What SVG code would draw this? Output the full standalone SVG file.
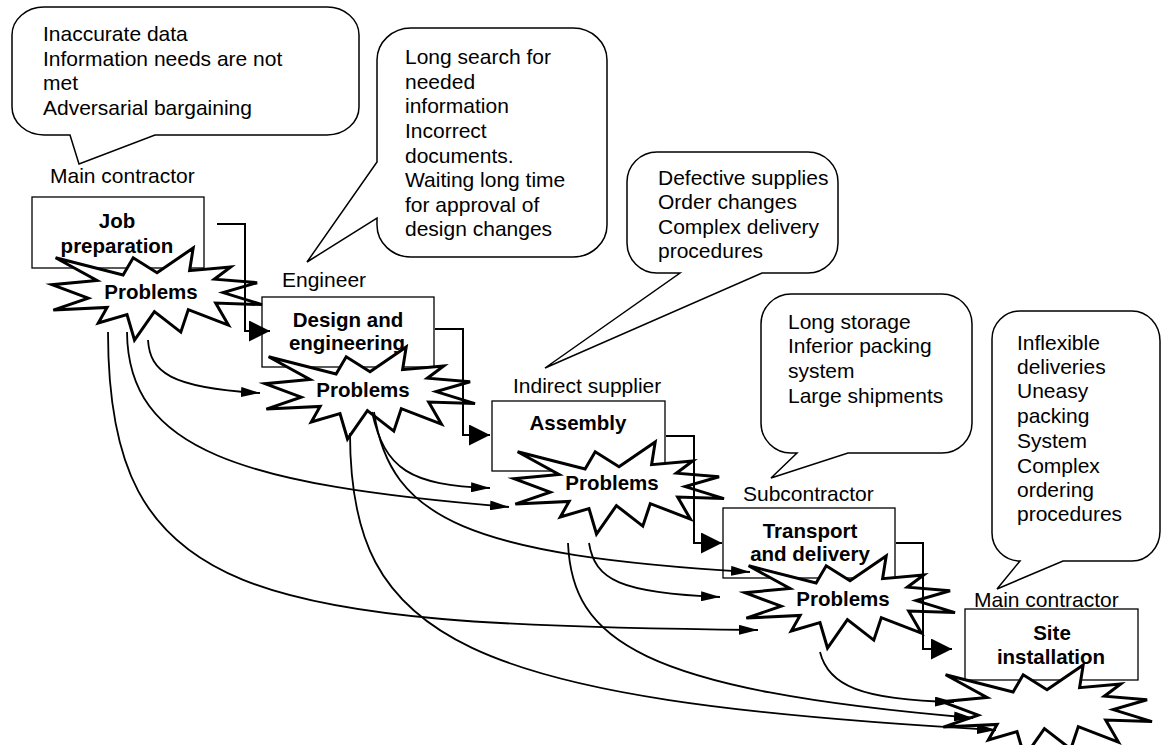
<svg xmlns="http://www.w3.org/2000/svg" xmlns:xlink="http://www.w3.org/1999/xlink" width="1162" height="745" viewBox="0 0 1162 745">
<defs>
<style>
.bubble{fill:#fff;stroke:#000;stroke-width:1.5;stroke-linejoin:miter}
.box{fill:#fff;stroke:#000;stroke-width:1.3}
.seal{fill:#fff;stroke:#000;stroke-width:3;stroke-linejoin:miter;stroke-miterlimit:5}
text{font-family:"Liberation Sans",Arial,Helvetica,sans-serif;font-size:21px;fill:#000}
.b{font-weight:bold;font-size:20.5px;text-anchor:middle}
.elbow{fill:none;stroke:#000;stroke-width:2;marker-end:url(#ahBig)}
.curve{fill:none;stroke:#000;stroke-width:1.8;marker-end:url(#ah)}
</style>
<marker id="ahBig" markerUnits="userSpaceOnUse" viewBox="0 0 21 21" refX="21" refY="10.5" markerWidth="21" markerHeight="21" orient="auto"><path d="M0,0 L21,10.5 L0,21 Z" fill="#000"/></marker>
<marker id="ah" markerUnits="userSpaceOnUse" viewBox="0 0 19 10" refX="19" refY="5" markerWidth="19" markerHeight="10" orient="auto"><path d="M0,0 L19,5 L0,10 Z" fill="#000"/></marker>
<polygon id="seal" class="seal" points="105,24.7 141.2,0 137.6,22.7 178.7,19 162.4,31.2 205.1,34.7 171.2,44.6 210,56.6 163.7,55.1 176.4,77.1 136.3,61.6 128.8,84.1 102.4,63.6 82.5,92 75,66.6 46.3,75 55.1,59.4 1.3,62.1 36.2,50.2 0,36.7 45,32.4 3.6,9.8 71.1,26.9 81.2,9.8"/>
</defs>
<rect width="1162" height="745" fill="#fff"/>

<g id="callouts">
<g id="callout-1">
<path class="bubble" d="M44,7 H327 A32,28 0 0 1 359,35 V107 A32,28 0 0 1 327,135 H155 L79,164 L70,135 H44 A32,28 0 0 1 12,107 V35 A32,28 0 0 1 44,7 Z"/>
<text x="43" y="41">Inaccurate data</text>
<text x="43" y="66">Information needs are not</text>
<text x="43" y="90">met</text>
<text x="43" y="115">Adversarial bargaining</text>
</g>
<g id="callout-2">
<path class="bubble" d="M411,28 H573 A34,32 0 0 1 607,60 V225 A34,32 0 0 1 573,257 H411 A34,32 0 0 1 377,225 V218 L307,262 L377,162 V60 A34,32 0 0 1 411,28 Z"/>
<text x="405" y="64">Long search for</text>
<text x="405" y="89">needed</text>
<text x="405" y="113">information</text>
<text x="405" y="138">Incorrect</text>
<text x="405" y="163">documents.</text>
<text x="405" y="187">Waiting long time</text>
<text x="405" y="212">for approval of</text>
<text x="405" y="236">design changes</text>
</g>
<g id="callout-3">
<path class="bubble" d="M657,152 H808 A30,30 0 0 1 838,182 V243 A30,30 0 0 1 808,273 H762 L545,368 L680,273 H657 A30,30 0 0 1 627,243 V182 A30,30 0 0 1 657,152 Z"/>
<text x="658" y="185">Defective supplies</text>
<text x="658" y="209">Order changes</text>
<text x="658" y="234">Complex delivery</text>
<text x="658" y="258">procedures</text>
</g>
<g id="callout-4">
<path class="bubble" d="M791,294 H942 A30,30 0 0 1 972,324 V423 A30,30 0 0 1 942,453 H848 L771,478 L797,453 H791 A30,30 0 0 1 761,423 V324 A30,30 0 0 1 791,294 Z"/>
<text x="788" y="329">Long storage</text>
<text x="788" y="353">Inferior packing</text>
<text x="788" y="378">system</text>
<text x="788" y="403">Large shipments</text>
</g>
<g id="callout-5">
<path class="bubble" d="M1020,311 H1132 A28,30 0 0 1 1160,341 V531 A28,30 0 0 1 1132,561 H1063 L997,589 L1020,561 A28,28 0 0 1 992,533 V339 A28,28 0 0 1 1020,311 Z"/>
<text x="1017" y="350">Inflexible</text>
<text x="1017" y="374">deliveries</text>
<text x="1017" y="398">Uneasy</text>
<text x="1017" y="423">packing</text>
<text x="1017" y="448">System</text>
<text x="1017" y="473">Complex</text>
<text x="1017" y="497">ordering</text>
<text x="1017" y="521">procedures</text>
</g>
</g>

<g id="job-preparation">
<text x="50" y="183">Main contractor</text>
<rect class="box" x="32" y="197" width="172" height="71"/>
<text class="b" x="117" y="228">Job</text>
<text class="b" x="117" y="253">preparation</text>
</g>
<g id="design-engineering">
<text x="282" y="287">Engineer</text>
<rect class="box" x="262" y="297" width="172" height="70"/>
<text class="b" x="348" y="327">Design and</text>
<text class="b" x="347" y="350">engineering</text>
</g>
<g id="assembly">
<text x="513" y="393">Indirect supplier</text>
<rect class="box" x="492" y="401" width="173" height="70"/>
<text class="b" x="578" y="430">Assembly</text>
</g>
<g id="transport-delivery">
<text x="743" y="501">Subcontractor</text>
<rect class="box" x="723" y="508" width="172" height="70"/>
<text class="b" x="810" y="538">Transport</text>
<text class="b" x="810" y="561">and delivery</text>
</g>
<g id="site-installation">
<text x="974" y="607">Main contractor</text>
<rect class="box" x="965" y="609" width="173" height="71"/>
<text class="b" x="1052" y="640">Site</text>
<text class="b" x="1051" y="664">installation</text>
</g>

<g id="problems-1"><use xlink:href="#seal" href="#seal" x="52" y="248"/><text class="b" x="151" y="299">Problems</text></g>
<g id="problems-2"><use xlink:href="#seal" href="#seal" x="265" y="347"/><text class="b" x="363" y="397">Problems</text></g>
<g id="problems-3"><use xlink:href="#seal" href="#seal" x="514" y="442"/><text class="b" x="612" y="490">Problems</text></g>
<g id="problems-4"><use xlink:href="#seal" href="#seal" x="745" y="556"/><text class="b" x="843" y="606">Problems</text></g>
<g id="problems-5"><use xlink:href="#seal" href="#seal" x="942" y="665"/></g>

<g id="connectors">
<path class="elbow" d="M217,224 H245 V331 H270"/>
<path class="elbow" d="M435,329 H463 V435 H490"/>
<path class="elbow" d="M666,436 H694 V543 H722"/>
<path class="elbow" d="M896,543 H923 V649 H952"/>
<path class="curve" d="M148,340 C150,372 170,388 260,393"/>
<path class="curve" d="M127,332 C128,450 240,485 509,507"/>
<path class="curve" d="M108,332 C108,600 250,625 758,630"/>
<path class="curve" d="M372,412 C385,470 410,485 490,488"/>
<path class="curve" d="M374,412 C390,520 470,555 750,572"/>
<path class="curve" d="M350,433 C350,640 460,700 996,730"/>
<path class="curve" d="M589,543 C595,580 620,593 720,597"/>
<path class="curve" d="M568,543 C572,640 640,690 973,718"/>
<path class="curve" d="M820,652 C828,685 860,700 954,702"/>
</g>
</svg>
